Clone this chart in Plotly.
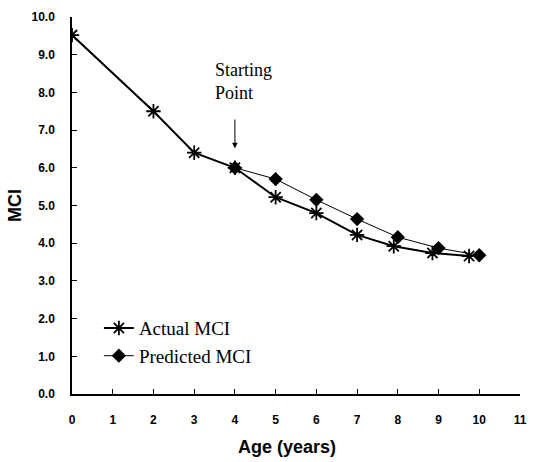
import plotly.graph_objects as go

actual_age = [0, 2, 3, 4, 5, 6, 7, 7.9, 8.85, 9.75]
actual_mci = [9.52, 7.5, 6.4, 6.0, 5.22, 4.8, 4.22, 3.92, 3.74, 3.66]
pred_age = [4, 5, 6, 7, 8, 9, 10]
pred_mci = [6.0, 5.7, 5.15, 4.64, 4.16, 3.87, 3.68]
x_ticks = list(range(0, 12))
y_ticks = [i * 1.0 for i in range(0, 11)]

fig = go.Figure()
fig.add_trace(go.Scatter(
    x=actual_age, y=actual_mci, mode="lines+markers", name="Actual MCI",
    line=dict(color="black", width=2),
    marker=dict(symbol="asterisk-open", size=12, line=dict(color="black", width=1.8), color="black"),
))
fig.add_trace(go.Scatter(
    x=pred_age, y=pred_mci, mode="lines+markers", name="Predicted MCI",
    line=dict(color="black", width=1),
    marker=dict(symbol="diamond", size=11, color="black"),
))

fig.add_annotation(x=4, y=6.52, ax=4, ay=7.32, xref="x", yref="y", axref="x", ayref="y",
                   text="", font=dict(size=1), showarrow=True, arrowhead=2, arrowsize=1.1,
                   arrowwidth=1, arrowcolor="black")
fig.add_annotation(x=3.45, y=8.28, xref="x", yref="y", text="Starting<br>Point", showarrow=False,
                   xanchor="left", yanchor="middle", align="left",
                   font=dict(family="Liberation Serif, Times New Roman, serif", size=18, color="black"))

fig.add_annotation(x=(290 - 72) / 455, y=0, xref="paper", yref="paper", yshift=-53,
                   text="Age (years)", showarrow=False, xanchor="center", yanchor="middle",
                   font=dict(family="Liberation Sans, Arial", size=18, color="black", weight="bold"))

tick_font = dict(family="Liberation Sans, Arial", size=12, color="black", weight="bold")

fig.update_layout(
    width=535, height=462,
    margin=dict(l=72, r=8, t=17, b=68),
    paper_bgcolor="white", plot_bgcolor="white",
    showlegend=True,
    legend=dict(x=0.06, y=0.225, xanchor="left", yanchor="top", bgcolor="rgba(0,0,0,0)",
                font=dict(family="Liberation Serif, Times New Roman, serif", size=19, color="black"),
                tracegroupgap=6, itemwidth=30),
    xaxis=dict(range=[0, 11], tickvals=x_ticks, ticktext=[str(v) for v in x_ticks],
               showgrid=False, zeroline=False, showline=True, linecolor="black", linewidth=1.5,
               ticks="inside", ticklen=5, tickcolor="black", tickfont=tick_font, ticklabelstandoff=14),
    yaxis=dict(range=[0, 10], tickvals=y_ticks, ticktext=[f"{v:.1f}" for v in y_ticks],
               showgrid=False, zeroline=False, showline=True, linecolor="black", linewidth=1.5,
               ticks="inside", ticklen=5, tickcolor="black", tickfont=tick_font, ticklabelstandoff=13,
               title=dict(text="MCI", font=dict(family="Liberation Sans, Arial", size=18, color="black", weight="bold"), standoff=5)),
)

fig.write_html("out.html")
